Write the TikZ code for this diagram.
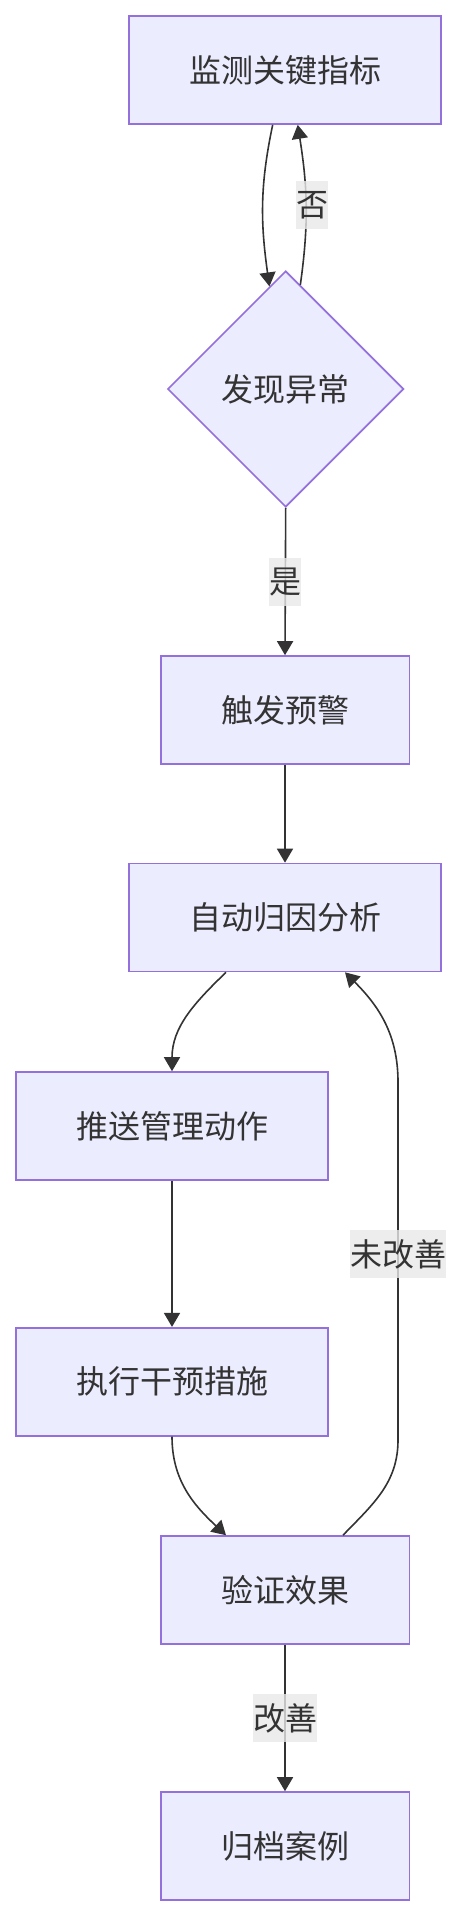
\documentclass[tikz,border=0pt]{standalone}
\usepackage{fontspec}
\newfontfamily\cjk{Noto Sans CJK SC}
\usetikzlibrary{arrows.meta, shapes.geometric}

\definecolor{boxfill}{HTML}{ECECFF}
\definecolor{boxline}{HTML}{9370DB}
\definecolor{textgray}{HTML}{333333}
\definecolor{linegray}{HTML}{333333}
\definecolor{lblbg}{HTML}{E8E8E8}

\begin{document}
\begin{tikzpicture}[x=1pt, y=1pt, >={Triangle[length=14pt, width=16pt]},
    box/.style={draw=boxline, fill=boxfill, line width=1.6pt, inner sep=0pt,
        minimum height=108pt, text=textgray, font=\fontsize{32pt}{48pt}\selectfont\cjk},
    wide/.style={box, minimum width=312pt},
    narrow/.style={box, minimum width=248.6pt},
    decision/.style={box, shape=diamond, aspect=1, minimum width=236pt, minimum height=236pt},
    edge/.style={->, draw=linegray, line width=1.6pt},
    lbl/.style={fill=lblbg, fill opacity=0.8, text opacity=1, inner sep=0pt,
        minimum height=48pt, text=textgray, font=\fontsize{32pt}{48pt}\selectfont\cjk}]

    \useasboundingbox (0,0) rectangle (462,-1916);

    % Nodes
    \node[wide]     (mon)  at (285,-70)     {监测关键指标};
    \node[decision] (chk)  at (285.7,-389)  {发现异常};
    \node[narrow]   (warn) at (285,-710)    {触发预警};
    \node[wide]     (ana)  at (285,-917.5)  {自动归因分析};
    \node[wide]     (push) at (172,-1126)   {推送管理动作};
    \node[wide]     (act)  at (172,-1381.7) {执行干预措施};
    \node[narrow]   (ver)  at (285,-1590)   {验证效果};
    \node[narrow]   (arc)  at (285,-1846)   {归档案例};

    % Bends of the loop back
    \coordinate (loopLow) at (398,-1440);
    \coordinate (loopUp)  at (398,-1082);

    % Edges
    \draw[edge] ([xshift=-12.3pt]mon.south) to[out=258, in=98] (chk.99);
    \draw[edge] (chk.82) to[out=82, in=279] ([xshift=12.7pt]mon.south);
    \draw[edge] (chk.south) -- (warn.north);
    \draw[edge] (warn) -- (ana);
    \draw[edge] ([xshift=-59pt]ana.south) to[out=224, in=90] (push.north);
    \draw[edge] (push) -- (act);
    \draw[edge] (act.south) to[out=270, in=137] ([xshift=-59pt]ver.north);
    \draw[edge] ([xshift=58pt]ver.north) to[out=46, in=270] (loopLow)
        -- (loopUp) to[out=90, in=315] ([xshift=60pt]ana.south);
    \draw[edge] (ver) -- (arc);

    % Edge labels
    \node[lbl] (no)    at (312,-205)  {否};
    \node[lbl] (yes)   at (285,-582)  {是};
    \node[lbl] (fail)  at (398,-1254) {未改善};
    \node[lbl] (good)  at (285,-1718) {改善};

\end{tikzpicture}
\end{document}
